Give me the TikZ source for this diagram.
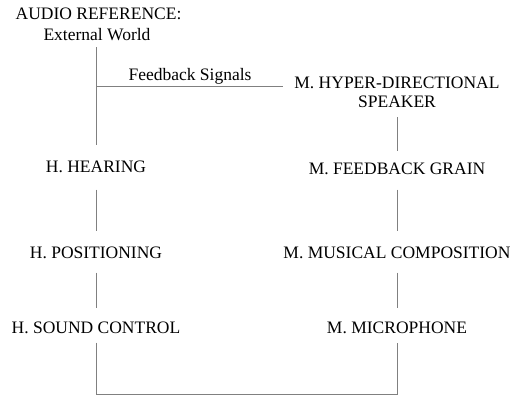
\documentclass[tikz,border=0pt]{standalone}
\usepackage{fontspec}
\setmainfont{Liberation Serif}
\begin{document}
\begin{tikzpicture}[x=1pt,y=1pt,
  txt/.style={inner sep=0pt, font=\fontsize{17.5}{19}\selectfont, text=black},
  conn/.style={draw=black!50, line width=1pt}]
\useasboundingbox (0,0) rectangle (517,396);
\node[txt] (title) at (98.5,382) {AUDIO REFERENCE:};
\node[txt] (ext) at (97,361) {External World};
\node[txt] (fb) at (190,320) {Feedback Signals};
\node[txt, align=center] (spk) at (397,303.5) {M. HYPER-DIRECTIONAL\\SPEAKER};
\node[txt] (hear) at (96,229) {H. HEARING};
\node[txt] (grain) at (397,227) {M. FEEDBACK GRAIN};
\node[txt] (pos) at (96,143) {H. POSITIONING};
\node[txt] (mus) at (397,143) {M. MUSICAL COMPOSITION};
\node[txt] (snd) at (96,68) {H. SOUND CONTROL};
\node[txt] (mic) at (397,68) {M. MICROPHONE};
\coordinate (junc) at (96,309);
\coordinate (bl) at (96,1);
\coordinate (br) at (397,1);
\draw[conn] ([xshift=-1pt,yshift=-6pt]ext.south) -- ([yshift=16pt]hear.north);
\draw[conn] (junc) -- ([xshift=-11pt,yshift=5.5pt]spk.west);
\draw[conn] ([yshift=-9.4pt]spk.south) -- ([yshift=11.4pt]grain.north);
\draw[conn] ([yshift=-16.4pt]hear.south) -- ([yshift=15.4pt]pos.north);
\draw[conn] ([yshift=-14.4pt]grain.south) -- ([yshift=15.4pt]mus.north);
\draw[conn] ([yshift=-13.4pt]pos.south) -- ([yshift=13.4pt]snd.north);
\draw[conn] ([yshift=-13.4pt]mus.south) -- ([yshift=13.4pt]mic.north);
\draw[conn] ([yshift=-8.4pt]snd.south) -- (bl) -- (br) -- ([yshift=-8.4pt]mic.south);
\end{tikzpicture}
\end{document}
